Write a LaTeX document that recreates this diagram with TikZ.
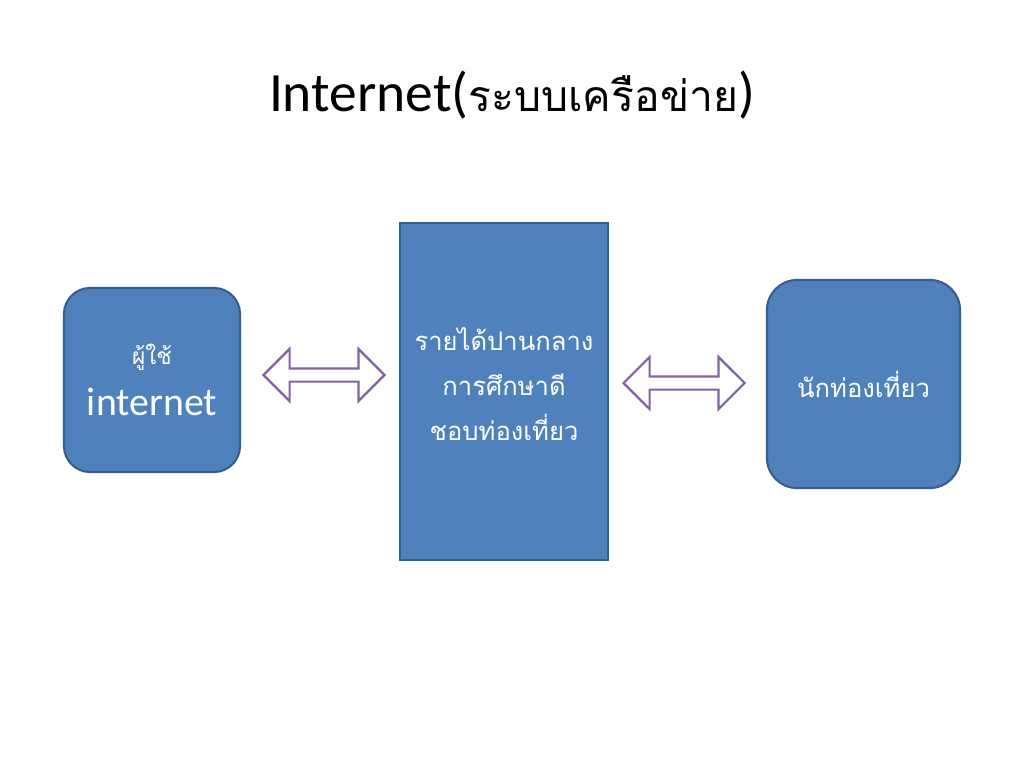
\documentclass[tikz,border=0pt]{standalone}
\usepackage{fontspec}
\setmainfont{Carlito}
\newfontfamily\thaifont[Script=Thai]{Loma}
\usetikzlibrary{shapes.arrows}
\definecolor{boxblue}{HTML}{4F81BD}
\definecolor{boxline}{HTML}{385D8A}
\definecolor{arrowpurple}{HTML}{8064A2}
\newdimen\pxu \pxu=0.703125pt
\tikzset{
         block/.style={draw=boxline, fill=boxblue, line width=1.5pt,
                       text=white, align=center, inner sep=0pt},
         roundblock/.style={block, rounded corners=#1},
         boxtext/.style={text=white, align=center, inner sep=0pt},
         twoway/.style={double arrow, draw=arrowpurple, fill=white, line width=1.5pt,
                        inner xsep=0pt, inner ysep=5.5\pxu,
                        minimum height=121\pxu, minimum width=50\pxu,
                        double arrow head extend=19.5\pxu},
}

\begin{document}
\begin{tikzpicture}[x=0.703125pt, y=-0.703125pt]
    \useasboundingbox[fill=white] (0,0) rectangle (1024,768);

    % Titel
    \node (title) at (512,95)
          {\fontsize{39}{46}\selectfont Internet({\thaifont\fontsize{30}{38}\selectfont ระบบเครือข่าย})};

    % Kaesten
    \node[roundblock=26\pxu, minimum width=176\pxu, minimum height=184\pxu] (user) at (152,380)
          {{\thaifont\fontsize{16}{20}\selectfont ผู้ใช้}\\[12pt]
           {\fontsize{28}{30}\selectfont internet}};
    \node[block, minimum width=208\pxu, minimum height=337\pxu] (mid) at (504,391.5) {};
    \node[boxtext, font=\thaifont\fontsize{18}{31.6}\selectfont] (midtext)
          at ([yshift=5pt]mid.center)
          {รายได้ปานกลาง\\ การศึกษาดี\\ ชอบท่องเที่ยว};
    \node[roundblock=30\pxu, minimum width=193\pxu, minimum height=208\pxu,
          font=\thaifont\fontsize{18}{24}\selectfont] (tourist) at (863.5,384)
          {นักท่องเที่ยว};

    % Pfeile
    \node[twoway] (la) at (324,375) {};
    \node[twoway] (ra) at (684,383) {};
\end{tikzpicture}
\end{document}
